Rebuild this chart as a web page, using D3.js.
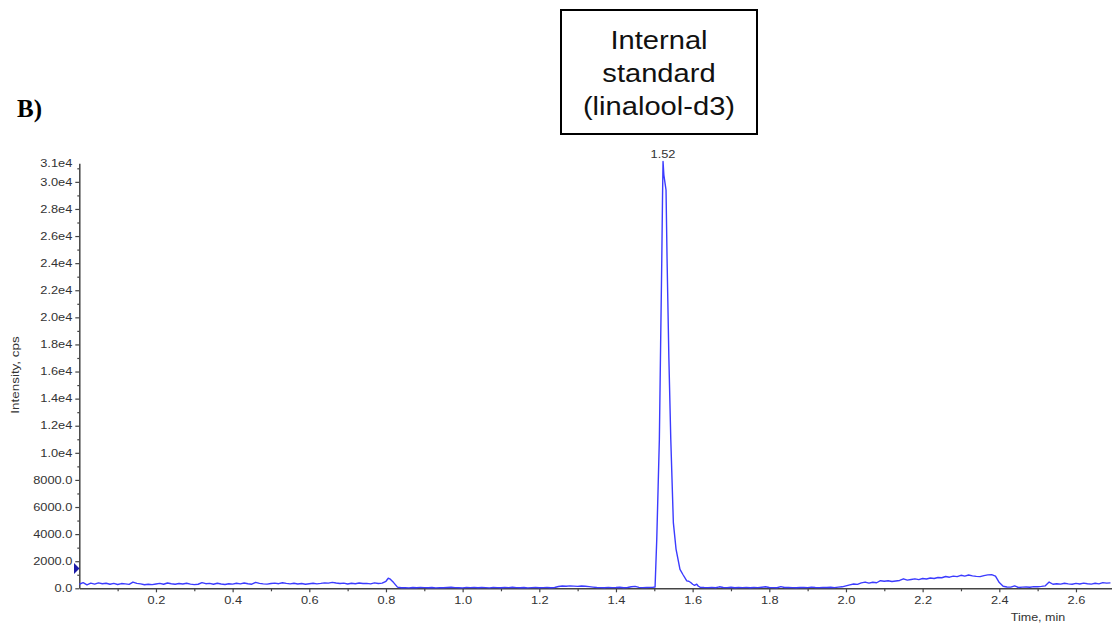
<!DOCTYPE html>
<html><head><meta charset="utf-8">
<script src="https://cdn.jsdelivr.net/npm/d3@7"></script>
<style>
body{margin:0;background:#fff;}
svg{display:block;font-family:"Liberation Sans",Arial,sans-serif;}
</style>
</head><body>
<svg id="c" width="1112" height="628"></svg>
<script>
// ---- data: [time (min), intensity (cps)] ----
const baselineEarly = [
[0.00,300],[0.01,420],[0.02,260],[0.03,380],[0.04,310],[0.05,400],[0.06,340],[0.07,370],[0.08,300],[0.09,360],
[0.10,280],[0.11,350],[0.12,330],[0.13,290],[0.14,460],[0.15,360],[0.16,330],[0.17,260],[0.18,300],[0.19,270],
[0.20,320],[0.21,360],[0.22,300],[0.23,390],[0.24,340],[0.25,300],[0.26,350],[0.27,320],[0.28,370],[0.29,310],
[0.30,270],[0.31,300],[0.32,420],[0.33,340],[0.34,360],[0.35,300],[0.36,370],[0.37,320],[0.38,280],[0.39,340],
[0.40,310],[0.41,370],[0.42,330],[0.43,390],[0.44,340],[0.45,300],[0.46,440],[0.47,360],[0.48,330],[0.49,310],
[0.50,350],[0.51,380],[0.52,340],[0.53,410],[0.54,360],[0.55,330],[0.56,370],[0.57,320],[0.58,350],[0.59,300],
[0.60,340],[0.61,370],[0.62,330],[0.63,360],[0.64,400],[0.65,380],[0.66,440],[0.67,390],[0.68,350],[0.69,380],
[0.70,320],[0.71,370],[0.72,340],[0.73,390],[0.74,350],[0.75,360],[0.76,330],[0.77,400],[0.78,350],[0.79,380],
[0.80,520],[0.806,740],[0.81,700],[0.82,420],[0.83,90]
];
const baselineMid = [
[0.84,40],[0.85,50],[0.86,30],[0.87,60],[0.88,40],[0.89,70],[0.90,50],[0.91,40],[0.92,60],[0.93,30],
[0.94,50],[0.95,40],[0.96,60],[0.97,80],[0.98,50],[0.99,40],[1.00,30],[1.01,60],[1.02,50],[1.03,70],
[1.04,40],[1.05,60],[1.06,50],[1.07,30],[1.08,70],[1.09,50],[1.10,40],[1.11,60],[1.12,50],[1.13,80],
[1.14,50],[1.15,40],[1.16,60],[1.17,30],[1.18,50],[1.19,70],[1.20,40],[1.21,50],[1.22,60],[1.23,40],
[1.24,60],[1.25,130],[1.26,170],[1.27,150],[1.28,180],[1.29,160],[1.30,140],[1.31,170],[1.32,150],[1.33,120],
[1.34,90],[1.35,60],[1.36,50],[1.37,40],[1.38,70],[1.39,50],[1.40,60],[1.41,80],[1.42,40],[1.43,60],
[1.44,110],[1.45,140],[1.46,70],[1.47,50],[1.48,60],[1.49,70],[1.495,70]
];
const peakIS = [
[1.502,100],[1.5064,3600],[1.510,7500],[1.5132,11000],[1.5165,18000],[1.5194,24000],[1.5215,29000],
[1.5228,31500],[1.525,30500],[1.5306,29400],[1.5333,24300],[1.538,17000],[1.543,11000],[1.5497,4850],
[1.5567,2900],[1.567,1400],[1.575,1000],[1.5847,550],[1.590,520],[1.595,430],[1.600,300],[1.605,220],
[1.6107,300],[1.615,150],[1.6193,80]
];
const baselineLate = [
[1.63,60],[1.64,50],[1.65,70],[1.66,40],[1.67,110],[1.68,60],[1.69,50],[1.70,80],[1.71,40],[1.72,60],
[1.73,50],[1.74,70],[1.75,40],[1.76,60],[1.77,50],[1.78,80],[1.79,110],[1.80,60],[1.81,50],[1.82,40],
[1.83,120],[1.84,60],[1.85,70],[1.86,50],[1.87,40],[1.88,60],[1.89,70],[1.90,50],[1.91,90],[1.92,60],
[1.93,50],[1.94,70],[1.95,60],[1.96,80],[1.97,50],[1.98,90],[1.99,110]
];
const humpLate = [
[2.00,180],[2.01,250],[2.02,320],[2.03,290],[2.04,400],[2.05,460],[2.06,380],[2.07,450],[2.08,410],[2.09,560],
[2.10,520],[2.11,560],[2.12,500],[2.13,540],[2.14,580],[2.15,700],[2.16,600],[2.17,650],[2.18,700],[2.19,640],
[2.20,720],[2.21,690],[2.22,760],[2.23,720],[2.24,800],[2.25,780],[2.26,870],[2.27,820],[2.28,900],[2.29,860],
[2.30,960],[2.31,900],[2.32,980],[2.33,920],[2.34,880],[2.35,860],[2.36,940],[2.37,990],[2.38,1010],[2.39,900],
[2.40,420],[2.41,150],[2.42,100],[2.43,90],[2.44,180],[2.45,60],[2.46,90],[2.47,100],[2.48,80],[2.49,120],
[2.50,110],[2.51,140],[2.52,180],[2.53,460],[2.54,300],[2.55,340],[2.56,310],[2.57,370],[2.58,330],[2.59,300],
[2.60,360],[2.61,320],[2.62,380],[2.63,340],[2.64,310],[2.65,370],[2.66,330],[2.67,420],[2.68,380],[2.69,400]
];

const xDomain = [0, 2.694];
const yDomain = [0, 31370];
const xTicksMajor = [0.2,0.4,0.6,0.8,1.0,1.2,1.4,1.6,1.8,2.0,2.2,2.4,2.6];
const xTicksMinor = [0.1,0.3,0.5,0.7,0.9,1.1,1.3,1.5,1.7,1.9,2.1,2.3,2.5];
const yTicksMajor = [0,2000,4000,6000,8000,10000,12000,14000,16000,18000,20000,22000,24000,26000,28000,30000];
const yTicksMinor = [1000,3000,5000,7000,9000,11000,13000,15000,17000,19000,21000,23000,25000,27000,29000,31000];
const yTopLabel = "3.1e4";
const peakTime = 1.5228, peakValue = 31500, peakLabel = "1.52";
const markerLevel = 1460;
const annotationLines = ["Internal","standard","(linalool-d3)"];
const panelLabel = "B)";
const xTitle = "Time, min";
const yTitle = "Intensity, cps";

// ---- drawing ----
const svg = d3.select("#c");
const x = d3.scaleLinear().domain(xDomain).range([79.3, 1112]);
const y = d3.scaleLinear().domain(yDomain).range([588.3, 163.3]);
const axisColor = "#444";
const textColor = "#333";

// widen text glyphs horizontally (reference text is stretched)
function stretch(sel, k) {
  sel.each(function() {
    const w = this.getComputedTextLength();
    if (w > 0) d3.select(this).attr("textLength", w * k).attr("lengthAdjust", "spacingAndGlyphs");
  });
}

const series = [].concat(baselineEarly, baselineMid, peakIS, baselineLate, humpLate);

// axes
const yFmt = v => v < 10000 ? v.toFixed(1) : (v/1e4).toFixed(1) + "e4";
svg.append("g").attr("transform","translate(79.3,0)")
  .call(d3.axisLeft(y).tickValues(yTicksMajor).tickSize(4).tickPadding(3).tickSizeOuter(0).tickFormat(yFmt));
const gyMinor = svg.append("g").attr("transform","translate(79.3,0)")
  .call(d3.axisLeft(y).tickValues(yTicksMinor.filter(v=>v<=yDomain[1])).tickSize(2).tickFormat(""));
gyMinor.select(".domain").remove();
const topLbl = svg.append("text").attr("x",72.3).attr("y",y(yDomain[1])).attr("dy","0.32em")
  .attr("text-anchor","end").attr("font-size",10).attr("fill",textColor).text(yTopLabel);

svg.append("g").attr("transform","translate(0,588.3)")
  .call(d3.axisBottom(x).tickValues(xTicksMajor).tickSize(4).tickPadding(5).tickSizeOuter(0).tickFormat(d3.format(".1f")));
const gxMinor = svg.append("g").attr("transform","translate(0,588.3)")
  .call(d3.axisBottom(x).tickValues(xTicksMinor).tickSize(3).tickFormat(""));
gxMinor.select(".domain").remove();

svg.selectAll(".domain").attr("stroke",axisColor).attr("stroke-width",1.5);
svg.selectAll(".tick line").attr("stroke",axisColor).attr("stroke-width",1.2);
const tickTexts = svg.selectAll(".tick text").attr("font-size",10).attr("fill",textColor)
  .attr("font-family",'"Liberation Sans",Arial,sans-serif');
stretch(tickTexts, 1.28);
stretch(topLbl, 1.28);

// trace
svg.append("path").datum(series)
  .attr("fill","none").attr("stroke","#3b3bff").attr("stroke-width",1.4)
  .attr("stroke-linejoin","round")
  .attr("d", d3.line().x(d=>x(d[0])).y(d=>y(d[1])));

// marker triangle on y axis
const my = y(markerLevel);
svg.append("path").attr("d",`M74,${my-5.5} L79.5,${my} L74,${my+5.5} Z`).attr("fill","#1c1ca8");

// peak label
const pl = svg.append("text").attr("x",x(peakTime)).attr("y",y(peakValue)-4)
  .attr("text-anchor","middle").attr("font-size",10).attr("fill",textColor).text(peakLabel);
stretch(pl, 1.28);

// axis titles
const yt = svg.append("text").attr("transform","translate(15,375) rotate(-90)")
  .attr("text-anchor","middle").attr("dy","0.35em").attr("font-size",11).attr("fill",textColor).text(yTitle);
stretch(yt, 1.22);
const xt = svg.append("text").attr("x",1038).attr("y",621).attr("text-anchor","middle")
  .attr("font-size",10).attr("fill",textColor).text(xTitle);
stretch(xt, 1.25);

// annotation box
svg.append("rect").attr("x",561).attr("y",10).attr("width",196).attr("height",124)
  .attr("fill","#fff").attr("stroke","#000").attr("stroke-width",2);
const ann = svg.append("g").selectAll("text").data(annotationLines).join("text")
  .attr("x",659).attr("y",(d,i)=>49+i*33).attr("text-anchor","middle")
  .attr("font-size",26).attr("fill","#111").text(d=>d);
stretch(ann, 1.12);

// panel label
svg.append("text").attr("x",17).attr("y",117).attr("font-family",'"Liberation Serif","Times New Roman",serif')
  .attr("font-weight","bold").attr("font-size",25).attr("fill","#000").text(panelLabel);
</script>
</body></html>
